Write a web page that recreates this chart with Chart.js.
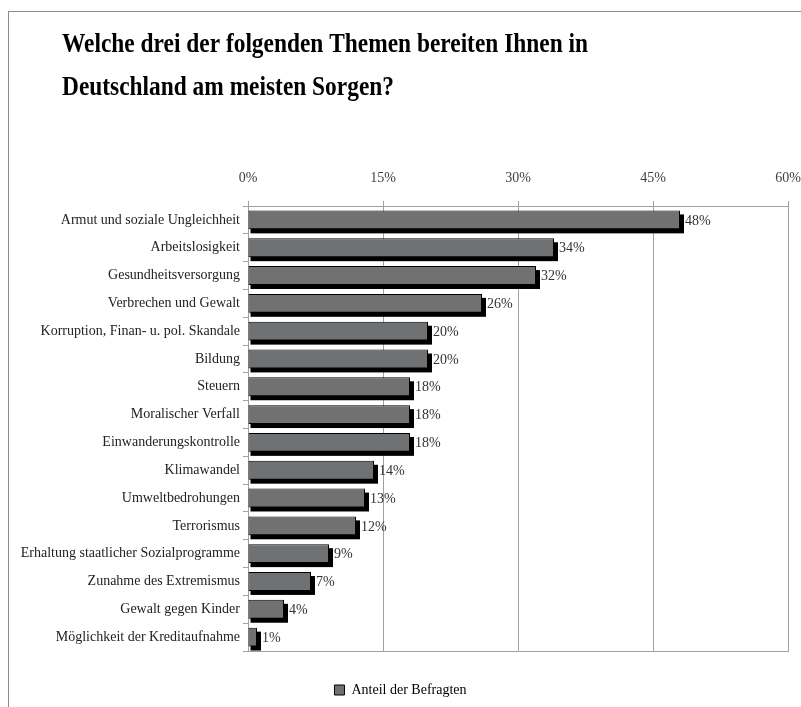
<!DOCTYPE html>
<html>
<head>
<meta charset="utf-8">
<script src="https://cdn.jsdelivr.net/npm/chart.js@4"></script>
<style>
  html, body { margin: 0; padding: 0; background: #fff; overflow: hidden; }
  canvas { display: block; }
</style>
</head>
<body>
<canvas id="myChart" width="801" height="707"></canvas>
<script>
const titleLines = [
  'Welche drei der folgenden Themen bereiten Ihnen in',
  'Deutschland am meisten Sorgen?'
];
const categories = [
  'Armut und soziale Ungleichheit',
  'Arbeitslosigkeit',
  'Gesundheitsversorgung',
  'Verbrechen und Gewalt',
  'Korruption, Finan- u. pol. Skandale',
  'Bildung',
  'Steuern',
  'Moralischer Verfall',
  'Einwanderungskontrolle',
  'Klimawandel',
  'Umweltbedrohungen',
  'Terrorismus',
  'Erhaltung staatlicher Sozialprogramme',
  'Zunahme des Extremismus',
  'Gewalt gegen Kinder',
  'Möglichkeit der Kreditaufnahme'
];
const values = [48, 34, 32, 26, 20, 20, 18, 18, 18, 14, 13, 12, 9, 7, 4, 1];
const xTicks = [0, 15, 30, 45, 60];
const seriesName = 'Anteil der Befragten';

const FONT = '"Liberation Serif", "Times New Roman", serif';
const gridGray = '#a0a0a0';

// frame + title (title squeezed a bit, the original font is narrower)
const frameTitle = {
  id: 'frameTitle',
  beforeDraw(chart) {
    const ctx = chart.ctx;
    ctx.save();
    ctx.strokeStyle = '#8c8c8c';
    ctx.lineWidth = 1;
    ctx.strokeRect(8.5, 11.5, 1000, 1000);
    ctx.fillStyle = '#000';
    ctx.font = 'bold 27px ' + FONT;
    ctx.textBaseline = 'alphabetic';
    const sx = 526 / ctx.measureText(titleLines[0]).width;
    ctx.translate(62, 0);
    ctx.scale(sx, 1);
    ctx.fillText(titleLines[0], 0, 52);
    ctx.fillText(titleLines[1], 0, 95);
    ctx.restore();
  }
};

// black offset shadow behind each bar
const barShadow = {
  id: 'barShadow',
  beforeDatasetsDraw(chart) {
    const ctx = chart.ctx;
    ctx.save();
    ctx.fillStyle = '#000';
    chart.getDatasetMeta(0).data.forEach(bar => {
      const p = bar.getProps(['x', 'y', 'base', 'height'], true);
      ctx.fillRect(p.base + 2, p.y - p.height / 2 + 4, p.x - p.base + 2, p.height);
    });
    ctx.restore();
  }
};

// value labels after the bars
const valueLabels = {
  id: 'valueLabels',
  afterDatasetsDraw(chart) {
    const ctx = chart.ctx;
    ctx.save();
    ctx.fillStyle = '#333';
    ctx.font = '14px ' + FONT;
    ctx.textBaseline = 'middle';
    ctx.textAlign = 'left';
    chart.getDatasetMeta(0).data.forEach((bar, i) => {
      ctx.fillText(values[i] + '%', bar.x + 5, bar.y + 1);
    });
    ctx.restore();
  }
};

const ctx = document.getElementById('myChart').getContext('2d');
new Chart(ctx, {
  type: 'bar',
  data: {
    labels: categories,
    datasets: [{
      label: seriesName,
      data: values,
      backgroundColor: '#707173',
      borderColor: '#000',
      borderWidth: 1,
      borderSkipped: false,
      barPercentage: 0.68,
      categoryPercentage: 1
    }]
  },
  options: {
    indexAxis: 'y',
    responsive: false,
    animation: false,
    devicePixelRatio: 1,
    layout: { padding: { top: 150, right: 0, bottom: 0, left: 0 } },
    plugins: {
      title: { display: false },
      tooltip: { enabled: false },
      legend: {
        display: true,
        position: 'bottom',
        labels: {
          boxWidth: 10,
          boxHeight: 10,
          padding: 10,
          color: '#333',
          font: { family: FONT, size: 14 },
          generateLabels: () => [{
            text: seriesName,
            fillStyle: '#707173',
            strokeStyle: '#000',
            lineWidth: 1,
            datasetIndex: 0
          }]
        }
      }
    },
    scales: {
      x: {
        position: 'top',
        min: 0,
        max: 60,
        afterBuildTicks: s => { s.ticks = xTicks.map(v => ({ value: v })); },
        afterFit: s => { s.height = 56; s.paddingRight = 13; },
        ticks: {
          color: '#404040',
          padding: 14,
          font: { family: FONT, size: 14 },
          callback: v => v + '%'
        },
        grid: { color: gridGray, tickLength: 5 },
        border: { display: true, color: gridGray }
      },
      x2: {
        type: 'linear',
        position: 'bottom',
        min: 0,
        max: 60,
        afterFit: s => { s.height = 22; s.paddingRight = 0; },
        ticks: { display: false },
        grid: { display: false },
        border: { display: true, color: gridGray }
      },
      y: {
        afterFit: s => { s.width = 248; },
        ticks: {
          color: '#222',
          padding: 3,
          font: { family: FONT, size: 14 }
        },
        grid: { drawOnChartArea: false, color: gridGray, tickLength: 5 },
        border: { display: true, color: gridGray }
      }
    }
  },
  plugins: [frameTitle, barShadow, valueLabels]
});
</script>
</body>
</html>
